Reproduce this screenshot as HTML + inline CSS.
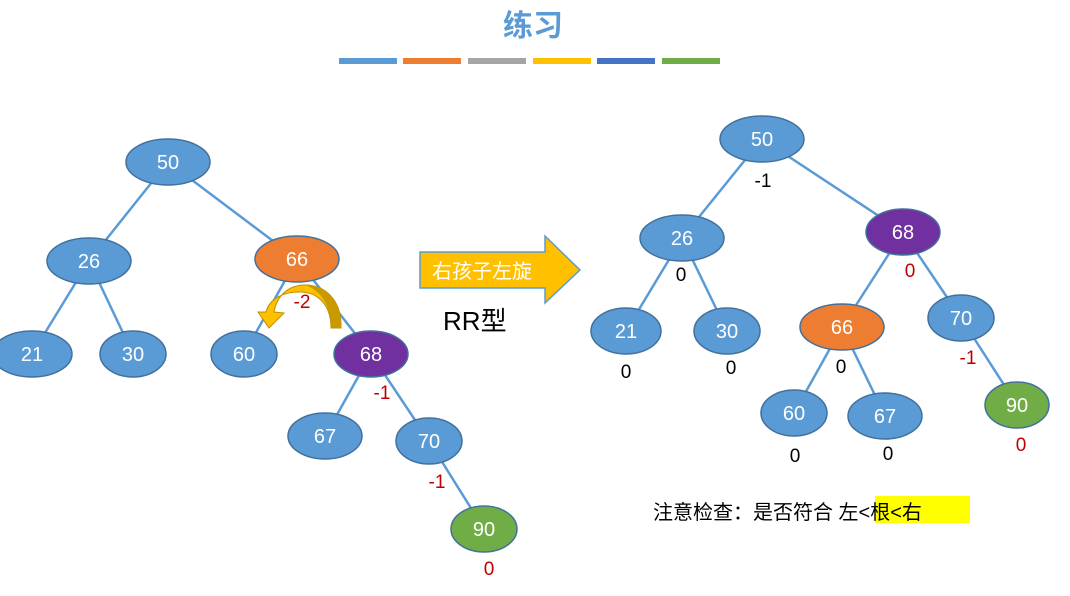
<!DOCTYPE html>
<html><head><meta charset="utf-8"><style>
body{margin:0;background:#fff}
svg text{font-family:"Liberation Sans","Noto Sans CJK SC",sans-serif}
</style></head><body>
<svg width="1070" height="591" viewBox="0 0 1070 591" xmlns="http://www.w3.org/2000/svg">
<text x="533" y="36" text-anchor="middle" font-size="30" fill="#5b9bd5" font-weight="bold" font-family="Noto Sans CJK SC">练习</text>
<g>
<rect x="339" y="58" width="58" height="6" fill="#5b9bd5"/>
<rect x="403" y="58" width="58" height="6" fill="#ed7d31"/>
<rect x="468" y="58" width="58" height="6" fill="#a5a5a5"/>
<rect x="533" y="58" width="58" height="6" fill="#ffc000"/>
<rect x="597" y="58" width="58" height="6" fill="#4472c4"/>
<rect x="662" y="58" width="58" height="6" fill="#70ad47"/>
</g>
<g stroke="#5b9bd5" stroke-width="2.5">
<line x1="168" y1="162" x2="89" y2="261"/><line x1="168" y1="162" x2="297" y2="259"/>
<line x1="89" y1="261" x2="32" y2="354"/><line x1="89" y1="261" x2="133" y2="354"/>
<line x1="297" y1="259" x2="244" y2="354"/><line x1="297" y1="259" x2="371" y2="354"/>
<line x1="371" y1="354" x2="325" y2="436"/><line x1="371" y1="354" x2="429" y2="441"/>
<line x1="429" y1="441" x2="484" y2="529"/>
<line x1="762" y1="139" x2="682" y2="238"/><line x1="762" y1="139" x2="903" y2="232"/>
<line x1="682" y1="238" x2="626" y2="331"/><line x1="682" y1="238" x2="727" y2="331"/>
<line x1="903" y1="232" x2="842" y2="327"/><line x1="903" y1="232" x2="961" y2="318"/>
<line x1="842" y1="327" x2="794" y2="413"/><line x1="842" y1="327" x2="885" y2="416"/>
<line x1="961" y1="318" x2="1017" y2="405"/>
</g>
<g stroke="#41719c" stroke-width="1.5">
<ellipse cx="168" cy="162" rx="42" ry="23" fill="#5b9bd5"/>
<ellipse cx="89" cy="261" rx="42" ry="23" fill="#5b9bd5"/>
<ellipse cx="297" cy="259" rx="42" ry="23" fill="#ed7d31"/>
<ellipse cx="32" cy="354" rx="40" ry="23" fill="#5b9bd5"/>
<ellipse cx="133" cy="354" rx="33" ry="23" fill="#5b9bd5"/>
<ellipse cx="244" cy="354" rx="33" ry="23" fill="#5b9bd5"/>
<ellipse cx="371" cy="354" rx="37" ry="23" fill="#7030a0"/>
<ellipse cx="325" cy="436" rx="37" ry="23" fill="#5b9bd5"/>
<ellipse cx="429" cy="441" rx="33" ry="23" fill="#5b9bd5"/>
<ellipse cx="484" cy="529" rx="33" ry="23" fill="#70ad47"/>
<ellipse cx="762" cy="139" rx="42" ry="23" fill="#5b9bd5"/>
<ellipse cx="682" cy="238" rx="42" ry="23" fill="#5b9bd5"/>
<ellipse cx="903" cy="232" rx="37" ry="23" fill="#7030a0"/>
<ellipse cx="626" cy="331" rx="35" ry="23" fill="#5b9bd5"/>
<ellipse cx="727" cy="331" rx="33" ry="23" fill="#5b9bd5"/>
<ellipse cx="842" cy="327" rx="42" ry="23" fill="#ed7d31"/>
<ellipse cx="961" cy="318" rx="33" ry="23" fill="#5b9bd5"/>
<ellipse cx="794" cy="413" rx="33" ry="23" fill="#5b9bd5"/>
<ellipse cx="885" cy="416" rx="37" ry="23" fill="#5b9bd5"/>
<ellipse cx="1017" cy="405" rx="32" ry="23" fill="#70ad47"/>
</g>
<g fill="#fff" font-size="20" text-anchor="middle">
<text x="168" y="169">50</text><text x="89" y="268">26</text><text x="297" y="266">66</text>
<text x="32" y="361">21</text><text x="133" y="361">30</text><text x="244" y="361">60</text>
<text x="371" y="361">68</text><text x="325" y="443">67</text><text x="429" y="448">70</text>
<text x="484" y="536">90</text>
<text x="762" y="146">50</text><text x="682" y="245">26</text><text x="903" y="239">68</text>
<text x="626" y="338">21</text><text x="727" y="338">30</text><text x="842" y="334">66</text>
<text x="961" y="325">70</text><text x="794" y="420">60</text><text x="885" y="423">67</text>
<text x="1017" y="412">90</text>
</g>
<g font-size="19" text-anchor="middle">
<text x="302" y="308" fill="#c00000">-2</text>
<text x="382" y="399" fill="#c00000">-1</text>
<text x="437" y="488" fill="#c00000">-1</text>
<text x="489" y="575" fill="#c00000">0</text>
<text x="763" y="187" fill="#000">-1</text>
<text x="681" y="281" fill="#000">0</text>
<text x="910" y="277" fill="#c00000">0</text>
<text x="626" y="378" fill="#000">0</text>
<text x="731" y="374" fill="#000">0</text>
<text x="841" y="373" fill="#000">0</text>
<text x="968" y="364" fill="#c00000">-1</text>
<text x="795" y="462" fill="#000">0</text>
<text x="888" y="460" fill="#000">0</text>
<text x="1021" y="451" fill="#c00000">0</text>
</g>
<path d="M341,328 C342,300 325,285 305,285 C288,285 277,296 274,312 L284,313 L269,328 L258,312 L266,312 C270,298 283,292 300,292 C318,292 331,305 331,328 Z" fill="#ffc000" stroke="#bf9000" stroke-width="1"/>
<path d="M341,328 C342,300 325,285 305,285 C320,290 331,305 331,328 Z" fill="#c99a00"/>
<path d="M420,252 L545,252 L545,236 L580,270 L545,303 L545,288 L420,288 Z" fill="#ffc000" stroke="#5b9bd5" stroke-width="1.5"/>
<text x="482" y="278" text-anchor="middle" fill="#fff" font-size="20" font-family="Noto Serif CJK SC">右孩子左旋</text>
<text x="443" y="330" font-size="26" fill="#000">RR<tspan font-family="Noto Sans CJK SC">型</tspan></text>
<rect x="875" y="496" width="95" height="27" fill="#ffff00"/>
<text x="653" y="519" font-size="20" fill="#000" font-family="Noto Serif CJK SC">注意检查：是否符合 左&lt;根&lt;右</text>
</svg>
</body></html>
